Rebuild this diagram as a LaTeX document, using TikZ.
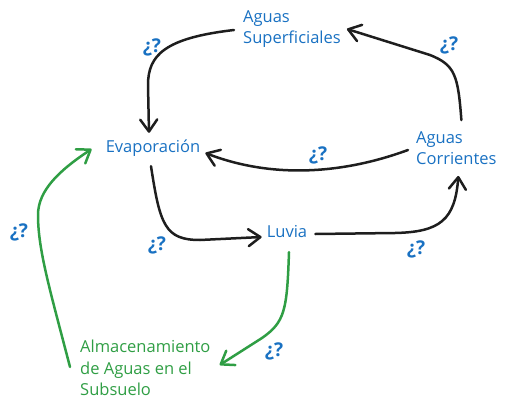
\documentclass[tikz,border=0pt]{standalone}
\usepackage{fontspec}
\setmainfont{Open Sans}
\usetikzlibrary{arrows.meta}
\definecolor{cblue}{HTML}{1971C2}
\definecolor{cgreen}{HTML}{2F9E44}
\definecolor{cblack}{HTML}{1E1E1E}
\begin{document}
\begin{tikzpicture}[x=1pt,y=-1pt,
  lbl/.style={inner sep=0pt,text=cblue,font=\fontsize{16.5}{21.5}\selectfont,align=left},
  slbl/.style={lbl,text height=11pt,text depth=3pt},
  qlbl/.style={inner sep=0pt,text=cblue,font=\bfseries\fontsize{19}{20}\selectfont},
  conn/.style={line width=2.5pt,line cap=round,line join=round,
    -{Straight Barb[length=12pt,width=17pt,round]}},
  blk/.style={conn,draw=cblack},
  grn/.style={conn,draw=cgreen}]
\useasboundingbox (0,0) rectangle (507,407);
\node[lbl,anchor=west] (sup) at (243,29) {Aguas\\Superficiales};
\node[slbl] (evap) at (153,148) {Evaporación};
\node[lbl,anchor=west] (corr) at (416,148) {Aguas\\Corrientes};
\node[slbl] (luvia) at (287,233) {Luvia};
\node[lbl,anchor=west,text=cgreen] (alm) at (80,368) {Almacenamiento\\de Aguas en el\\Subsuelo};
\node[qlbl] (q1) at (152,47) {¿?};
\node[qlbl] (q2) at (449,45) {¿?};
\node[qlbl] (q3) at (318,155) {¿?};
\node[qlbl] (q4) at (19,232) {¿?};
\node[qlbl] (q5) at (157,245) {¿?};
\node[qlbl] (q6) at (416,249) {¿?};
\node[qlbl] (q7) at (274,351) {¿?};
% Aguas Superficiales -> Evaporacion
\draw[blk] ([shift={(-9,1)}]sup.west) .. controls (165,38) and (148,55) .. (148,85) -- ([shift={(-4,-8)}]evap.north);
% Aguas Corrientes -> Aguas Superficiales
\draw[blk] ([shift={(5,-11)}]corr.north) .. controls (458,75) and (455,65) .. (430,55) -- ([shift={(6,0)}]sup.east);
% Aguas Corrientes -> Evaporacion
\draw[blk] ([shift={(-8,2)}]corr.west) .. controls (340,175) and (270,178) .. ([shift={(5,5)}]evap.east);
% Evaporacion -> Luvia
\draw[blk] ([shift={(-2,11)}]evap.south) .. controls (160,225) and (165,240) .. (200,240) -- ([shift={(-5,4)}]luvia.west);
% Luvia -> Aguas Corrientes
\draw[blk] ([shift={(8,1)}]luvia.east) -- (395,233) .. controls (440,232) and (455,220) .. ([shift={(2,11)}]corr.south);
% Luvia -> Almacenamiento
\draw[grn] ([shift={(2,12)}]luvia.south) .. controls (287,310) and (285,322) .. (262,338) -- ([shift={(9,-3)}]alm.east);
% Almacenamiento -> Evaporacion
\draw[grn] ([shift={(-10,-1)}]alm.west) .. controls (50,290) and (38,250) .. (38,215) .. controls (38,190) and (60,170) .. ([shift={(-14,1)}]evap.west);
\end{tikzpicture}
\end{document}
